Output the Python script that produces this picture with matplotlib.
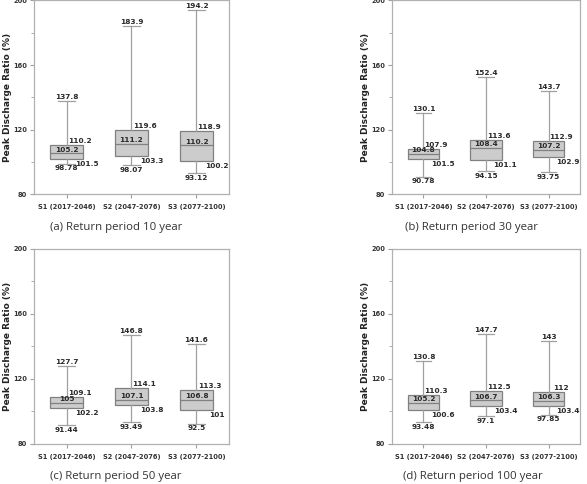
import matplotlib.pyplot as plt
from matplotlib.ticker import MultipleLocator

scenarios = ["S1 (2017-2046)", "S2 (2047-2076)", "S3 (2077-2100)"]
captions = ["(a) Return period 10 year", "(b) Return period 30 year",
            "(c) Return period 50 year", "(d) Return period 100 year"]

# per panel: one list per scenario -> [min, Q1, median, Q3, max]
rp10 = [[98.78, 101.5, 105.2, 110.2, 137.8],
        [98.07, 103.3, 111.2, 119.6, 183.9],
        [93.12, 100.2, 110.2, 118.9, 194.2]]
rp30 = [[90.78, 101.5, 104.8, 107.9, 130.1],
        [94.15, 101.1, 108.4, 113.6, 152.4],
        [93.75, 102.9, 107.2, 112.9, 143.7]]
rp50 = [[91.44, 102.2, 105, 109.1, 127.7],
        [93.49, 103.8, 107.1, 114.1, 146.8],
        [92.5, 101, 106.8, 113.3, 141.6]]
rp100 = [[93.48, 100.6, 105.2, 110.3, 130.8],
         [97.1, 103.4, 106.7, 112.5, 147.7],
         [97.85, 103.4, 106.3, 112, 143]]
panels = [rp10, rp30, rp50, rp100]

axes_pos = [[0.058, 0.599, 0.332, 0.400],
            [0.668, 0.599, 0.320, 0.400],
            [0.058, 0.083, 0.332, 0.403],
            [0.668, 0.083, 0.320, 0.403]]
caption_xy = [(0.198, 0.529), (0.804, 0.529), (0.198, 0.0145), (0.806, 0.0145)]

edge = "#808080"
fig = plt.figure(figsize=(5.87, 4.84), dpi=100)

for data, pos, cap, cxy in zip(panels, axes_pos, captions, caption_xy):
    ax = fig.add_axes(pos)
    stats = []
    for name, (lo, q1, med, q3, hi) in zip(scenarios, data):
        stats.append({"label": name, "whislo": lo, "q1": q1, "med": med,
                      "q3": q3, "whishi": hi, "fliers": []})
    ax.bxp(stats, positions=[1, 2, 3], widths=0.5, patch_artist=True,
           showfliers=False,
           boxprops=dict(facecolor="#cccccc", edgecolor=edge, linewidth=0.9),
           medianprops=dict(color=edge, linewidth=0.9),
           whiskerprops=dict(color="#a0a0a0", linewidth=0.9),
           capprops=dict(color="#a0a0a0", linewidth=0.9))
    for i, (lo, q1, med, q3, hi) in enumerate(data):
        x = i + 1
        kw = dict(fontsize=5.3, fontweight="bold", color="#2a2a2a")
        ax.text(x, hi + 0.6, f"{hi:g}", ha="center", va="bottom", **kw)
        ax.text(x + 0.2, q3 + 0.6, f"{q3:g}", ha="center", va="bottom", **kw)
        ax.text(x, med + 0.5, f"{med:g}", ha="center", va="bottom", **kw)
        ax.text(x + 0.31, q1 - 1.2, f"{q1:g}", ha="center", va="top", **kw)
        ax.text(x, lo - 1.0, f"{lo:g}", ha="center", va="top", **kw)

    ax.set_xlim(0.5, 3.5)
    ax.set_ylim(80, 200)
    ax.set_yticks([80, 120, 160, 200])
    ax.yaxis.set_minor_locator(MultipleLocator(20))
    ax.set_ylabel("Peak Discharge Ratio (%)", fontsize=6.5, fontweight="bold",
                  color="#222222", labelpad=1)
    ax.tick_params(axis="both", labelsize=4.8, colors="#a0a0a0",
                   labelcolor="#333333", length=3, width=0.8)
    ax.tick_params(axis="y", which="minor", length=2, colors="#a0a0a0")
    ax.tick_params(axis="y", pad=2)
    ax.tick_params(axis="x", pad=4)
    for lab in ax.get_xticklabels() + ax.get_yticklabels():
        lab.set_fontweight("bold")
    for sp in ax.spines.values():
        sp.set_color("#b0b0b0")
        sp.set_linewidth(0.9)
    fig.text(cxy[0], cxy[1], cap, ha="center", va="center", fontsize=8.2,
             family="Open Sans", color="#333333")

plt.savefig("out.png", dpi=100)
